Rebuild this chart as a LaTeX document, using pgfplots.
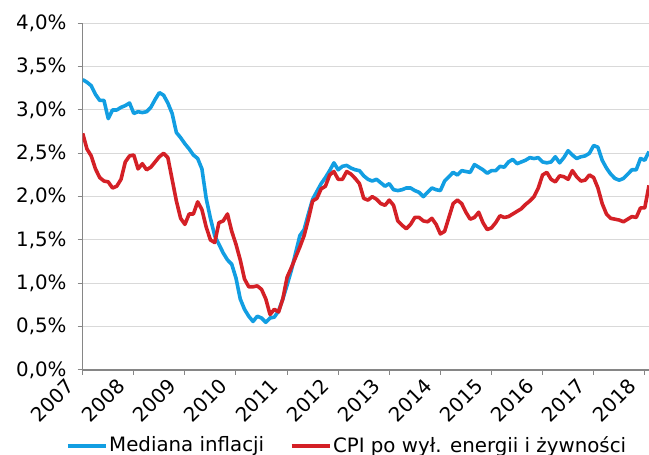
\documentclass[border=0pt]{standalone}
\usepackage{pgfplots}
\pgfplotsset{compat=1.18}
\usepackage{graphicx}
\usepackage{fontspec}
\setmainfont{DejaVu Sans}
\definecolor{cblue}{RGB}{18,158,226}
\definecolor{cred}{RGB}{212,32,38}
\definecolor{gridc}{RGB}{217,217,217}
\definecolor{axc}{RGB}{134,134,134}
\newcommand{\rt}[1]{\rotatebox{45}{#1}}
\begin{document}
\fontsize{19.8bp}{23bp}\selectfont
\begin{tikzpicture}[x=1bp,y=1bp]
\begin{axis}[
  at={(82.7bp,85bp)}, anchor=south west,
  scale only axis, width=566.3bp, height=346.7bp,
  xmin=0, xmax=133, ymin=0, ymax=4,
  axis x line*=bottom, axis y line*=left,
  axis line style={axc, line width=1.2bp},
  x axis line style={-}, y axis line style={-},
  xtick={0,12,...,132},
  xticklabels={\rt{2007},\rt{2008},\rt{2009},\rt{2010},\rt{2011},\rt{2012},\rt{2013},\rt{2014},\rt{2015},\rt{2016},\rt{2017},\rt{2018}},
  ytick={0,0.5,...,4},
  yticklabels={{0,0\%},{0,5\%},{1,0\%},{1,5\%},{2,0\%},{2,5\%},{3,0\%},{3,5\%},{4,0\%}},
  tick style={axc, line width=1bp},
  tick align=outside, major tick length=5bp,
  ymajorgrids, grid style={gridc, line width=1bp},
  xticklabel style={anchor=north east, inner sep=0pt, xshift=-7bp, yshift=-2bp},
  yticklabel style={anchor=east, inner sep=1bp, xshift=-10bp},
  tick label style={font=\fontsize{19.8bp}{23bp}\selectfont},
  clip=true,
  legend columns=2,
  legend style={at={(-0.03,-0.219)}, anchor=west, draw=none, fill=none, inner sep=0pt,
    font=\fontsize{19.8bp}{23bp}\selectfont,
    nodes={inner xsep=1.5bp, inner ysep=0pt},
    /tikz/every even column/.append style={column sep=24bp}},
  legend image code/.code={\draw[#1, line width=3.8bp] (0bp,0bp) -- (38bp,0bp);},
]
\addplot[cblue, line width=3.6bp, line join=round] table {
0 3.35
1 3.32
2 3.28
3 3.18
4 3.11
5 3.11
6 2.90
7 3.00
8 3.00
9 3.03
10 3.05
11 3.08
12 2.96
13 2.98
14 2.97
15 2.98
16 3.03
17 3.12
18 3.20
19 3.17
20 3.08
21 2.96
22 2.74
23 2.68
24 2.61
25 2.55
26 2.48
27 2.44
28 2.32
29 1.98
30 1.75
31 1.55
32 1.45
33 1.35
34 1.27
35 1.22
36 1.06
37 0.82
38 0.70
39 0.62
40 0.56
41 0.62
42 0.60
43 0.55
44 0.60
45 0.61
46 0.68
47 0.82
48 0.98
49 1.15
50 1.35
51 1.55
52 1.62
53 1.80
54 1.97
55 2.06
56 2.15
57 2.22
58 2.30
59 2.39
60 2.31
61 2.35
62 2.36
63 2.33
64 2.31
65 2.30
66 2.24
67 2.20
68 2.18
69 2.20
70 2.16
71 2.12
72 2.15
73 2.08
74 2.07
75 2.08
76 2.10
77 2.10
78 2.07
79 2.05
80 2.00
81 2.05
82 2.10
83 2.08
84 2.07
85 2.18
86 2.23
87 2.28
88 2.25
89 2.30
90 2.29
91 2.28
92 2.37
93 2.34
94 2.31
95 2.27
96 2.30
97 2.30
98 2.35
99 2.34
100 2.40
101 2.43
102 2.38
103 2.40
104 2.42
105 2.45
106 2.44
107 2.45
108 2.40
109 2.39
110 2.40
111 2.46
112 2.39
113 2.45
114 2.53
115 2.48
116 2.44
117 2.46
118 2.47
119 2.50
120 2.59
121 2.57
122 2.42
123 2.33
124 2.26
125 2.21
126 2.19
127 2.21
128 2.26
129 2.31
130 2.31
131 2.44
132 2.42
133 2.52
};
\addlegendentry{Mediana inflacji}
\addplot[cred, line width=3.6bp, line join=round] table {
0 2.73
1 2.55
2 2.47
3 2.32
4 2.22
5 2.18
6 2.17
7 2.10
8 2.12
9 2.20
10 2.40
11 2.47
12 2.48
13 2.32
14 2.38
15 2.31
16 2.34
17 2.40
18 2.46
19 2.50
20 2.45
21 2.20
22 1.95
23 1.75
24 1.68
25 1.80
26 1.80
27 1.94
28 1.85
29 1.65
30 1.50
31 1.47
32 1.70
33 1.72
34 1.80
35 1.60
36 1.45
37 1.27
38 1.05
39 0.96
40 0.96
41 0.97
42 0.93
43 0.82
44 0.64
45 0.70
46 0.67
47 0.82
48 1.07
49 1.18
50 1.30
51 1.42
52 1.55
53 1.74
54 1.95
55 1.98
56 2.09
57 2.12
58 2.25
59 2.29
60 2.20
61 2.20
62 2.29
63 2.26
64 2.21
65 2.15
66 1.98
67 1.96
68 2.00
69 1.97
70 1.92
71 1.90
72 1.96
73 1.90
74 1.72
75 1.67
76 1.63
77 1.68
78 1.76
79 1.76
80 1.72
81 1.71
82 1.75
83 1.68
84 1.57
85 1.60
86 1.76
87 1.92
88 1.96
89 1.92
90 1.82
91 1.74
92 1.76
93 1.82
94 1.70
95 1.62
96 1.64
97 1.70
98 1.78
99 1.76
100 1.77
101 1.80
102 1.83
103 1.86
104 1.91
105 1.95
106 2.00
107 2.10
108 2.25
109 2.28
110 2.20
111 2.17
112 2.24
113 2.23
114 2.20
115 2.30
116 2.23
117 2.18
118 2.19
119 2.25
120 2.22
121 2.10
122 1.92
123 1.80
124 1.75
125 1.74
126 1.73
127 1.71
128 1.74
129 1.77
130 1.76
131 1.87
132 1.87
133 2.13
};
\addlegendentry{CPI po wył. energii i żywności}
\end{axis}
\pgfresetboundingbox
\useasboundingbox (0,0) rectangle (649,455);
\end{tikzpicture}
\end{document}
